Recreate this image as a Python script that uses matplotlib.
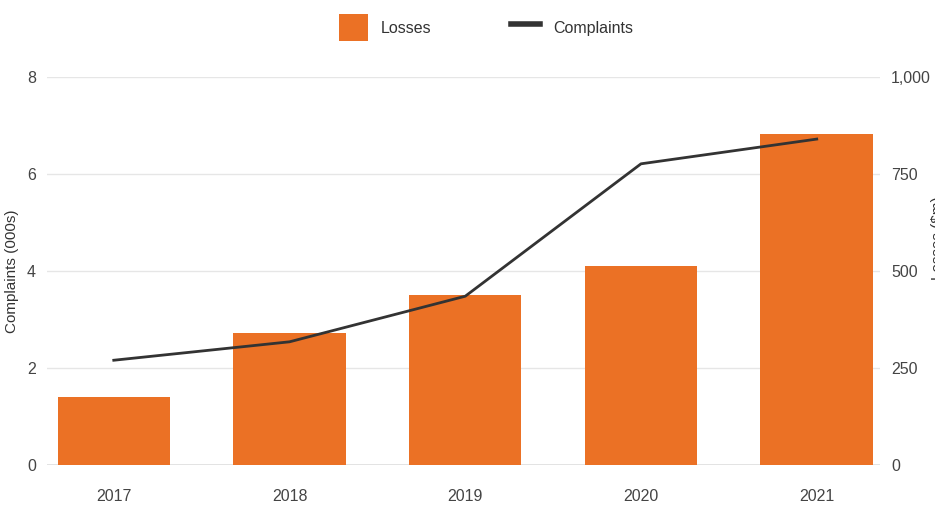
import matplotlib.pyplot as plt
from matplotlib.patches import Patch
from matplotlib.lines import Line2D
from matplotlib.ticker import FuncFormatter

years = ['2017', '2018', '2019', '2020', '2021']
losses = [175, 340, 438, 513, 853]
complaints = [2.16, 2.54, 3.48, 6.21, 6.72]

orange = '#eb7125'
dark = '#333333'
grey_text = '#444444'

plt.rcParams['font.family'] = ['Liberation Sans', 'DejaVu Sans']

fig = plt.figure(figsize=(9.35, 5.08), dpi=100)
ax = fig.add_axes([47 / 935, 43 / 508, 833 / 935, 388 / 508])
ax2 = ax.twinx()

x = list(range(len(years)))

# bars on the right axis, line on the left axis
ax2.bar(x, losses, width=0.64, color=orange, zorder=2)
ax2.set_ylim(0, 1000)
ax.set_ylim(0, 8)
ax.set_xlim(-0.38, 4.36)

ax.set_zorder(ax2.get_zorder() + 1)
ax.patch.set_visible(False)
ax.plot(x, complaints, color=dark, linewidth=2, zorder=3)

ax.set_yticks([0, 2, 4, 6, 8])
ax2.set_yticks([0, 250, 500, 750, 1000])
ax2.yaxis.set_major_formatter(FuncFormatter(lambda v, p: f'{int(v):,}'))
ax.set_xticks(x)
ax.set_xticklabels(years)

# grid behind the bars
for v in [250, 500, 750, 1000]:
    ax2.axhline(v, color='#e6e6e6', linewidth=1, zorder=0)
ax2.axhline(0, color='#e0e0e0', linewidth=2, zorder=1)

for a in (ax, ax2):
    for s in a.spines.values():
        s.set_visible(False)
    a.tick_params(colors='#dddddd', labelcolor=grey_text, labelsize=11.5, length=0)
ax.tick_params(axis='y', pad=8)
ax2.tick_params(axis='y', pad=8)
ax.tick_params(axis='x', pad=17)

ax.set_ylabel('Complaints (000s)', fontsize=11, color=dark, labelpad=6)
fig.text(938 / 935, 270 / 508, 'Losses ($m)', rotation=90, fontsize=11,
         color=dark, ha='center', va='center')

handles = [Patch(facecolor=orange, edgecolor='none'),
           Line2D([0], [0], color=dark, linewidth=4)]
fig.legend(handles, ['Losses', 'Complaints'], loc='upper center',
           bbox_to_anchor=(0.52, 1.0), ncol=2, frameon=False, fontsize=11.5,
           handlelength=1.8, handleheight=2.2, columnspacing=5,
           labelcolor=dark)

fig.savefig('out.png', dpi=100)
